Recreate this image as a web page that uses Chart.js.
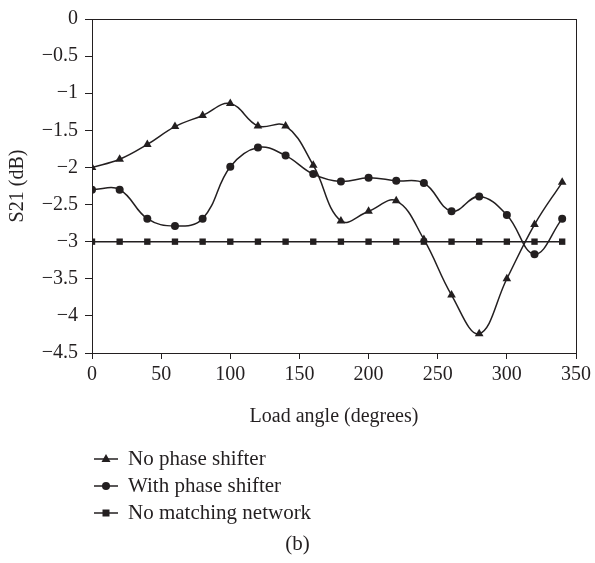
<!DOCTYPE html>
<html>
<head>
<meta charset="utf-8">
<title>S21 vs load angle</title>
<script src="https://cdn.jsdelivr.net/npm/chart.js@4/dist/chart.umd.min.js"></script>
<style>
  html, body { margin: 0; padding: 0; background: #fff; }
  #chart { display: block; }
</style>
</head>
<body>
<canvas id="chart" width="595" height="563"></canvas>
<script>
// Load angle (degrees)
const angles = [0, 20, 40, 60, 80, 100, 120, 140, 160, 180, 200, 220, 240, 260, 280, 300, 320, 340];

// S21 (dB) for each setup
const noShifter = [-2.0, -1.89, -1.69, -1.45, -1.30, -1.14, -1.44, -1.44, -1.97, -2.72, -2.59, -2.45, -2.97, -3.72, -4.24, -3.50, -2.77, -2.20];
const withShifter = [-2.30, -2.30, -2.69, -2.79, -2.69, -1.99, -1.73, -1.84, -2.09, -2.19, -2.14, -2.18, -2.21, -2.59, -2.39, -2.64, -3.17, -2.69];
const noMatching = [-3, -3, -3, -3, -3, -3, -3, -3, -3, -3, -3, -3, -3, -3, -3, -3, -3, -3];

const seriesNames = ['No phase shifter', 'With phase shifter', 'No matching network'];
const caption = '(b)';

const ink = '#231f20';
const serif = "'Liberation Serif', 'Times New Roman', serif";

function toPoints(values) {
   return values.map((v, i) => ({ x: angles[i], y: v }));
}

function marker(ctx, style, x, y) {
   ctx.beginPath();
   if (style === 'triangle') {
      ctx.moveTo(x, y - 5);
      ctx.lineTo(x + 4.5, y + 3);
      ctx.lineTo(x - 4.5, y + 3);
      ctx.closePath();
   } else if (style === 'circle') {
      ctx.arc(x, y, 4, 0, Math.PI * 2);
   } else {
      ctx.rect(x - 3.5, y - 3.5, 7, 7);
   }
   ctx.fill();
}

// Box round the plot, stacked legend and caption underneath
const frameAndLegend = {
   id: 'frameAndLegend',
   afterDraw(chart) {
      const { ctx, chartArea: a } = chart;
      ctx.save();
      ctx.strokeStyle = ink;
      ctx.lineWidth = 1;
      ctx.strokeRect(Math.round(a.left) + 0.5, Math.round(a.top) + 0.5,
         Math.round(a.right - a.left), Math.round(a.bottom - a.top));

      ctx.font = '21px ' + serif;
      ctx.fillStyle = ink;
      ctx.textBaseline = 'middle';
      ctx.textAlign = 'left';
      const rowY = [459, 486, 513];
      chart.data.datasets.forEach((ds, i) => {
         const y = rowY[i];
         ctx.beginPath();
         ctx.lineWidth = 1.5;
         ctx.moveTo(94, y);
         ctx.lineTo(118, y);
         ctx.stroke();
         marker(ctx, ds.pointStyle, 106, y);
         ctx.fillText(ds.label, 128, y);
      });

      ctx.textAlign = 'center';
      ctx.fillText(caption, chart.width / 2, 544);
      ctx.restore();
   }
};

const common = {
   borderColor: ink,
   backgroundColor: ink,
   borderWidth: 1.5,
   pointBorderWidth: 0,
   pointHoverRadius: 4,
   fill: false
};

new Chart(document.getElementById('chart'), {
   type: 'line',
   data: {
      datasets: [
         { ...common, label: seriesNames[0], data: toPoints(noShifter), pointStyle: 'triangle', pointRadius: 5, tension: 0.4 },
         { ...common, label: seriesNames[1], data: toPoints(withShifter), pointStyle: 'circle', pointRadius: 4, tension: 0.4 },
         { ...common, label: seriesNames[2], data: toPoints(noMatching), pointStyle: 'rect', pointRadius: 4.5, tension: 0 }
      ]
   },
   options: {
      responsive: false,
      animation: false,
      layout: { padding: { top: 12, right: 15, bottom: 133, left: 0 } },
      plugins: {
         legend: { display: false },
         tooltip: { enabled: false }
      },
      scales: {
         x: {
            type: 'linear',
            min: 0,
            max: 350,
            border: { display: true, color: ink, width: 1 },
            grid: { drawOnChartArea: false, drawTicks: true, tickLength: 6, color: ink },
            ticks: { stepSize: 50, color: ink, padding: 4, maxRotation: 0, font: { family: serif, size: 20 } },
            title: { display: true, text: 'Load angle (degrees)', color: ink, padding: { top: 0, bottom: 1 }, font: { family: serif, size: 20 } },
            afterFit(scale) { scale.height = 77; }
         },
         y: {
            min: -4.5,
            max: 0,
            border: { display: true, color: ink, width: 1 },
            grid: { drawOnChartArea: false, drawTicks: true, tickLength: 7, color: ink },
            ticks: {
               stepSize: 0.5,
               color: ink,
               padding: 7,
               font: { family: serif, size: 20 },
               callback: v => String(v).replace('-', '\u2212')
            },
            title: { display: true, text: 'S21 (dB)', color: ink, padding: { top: 6, bottom: 0 }, font: { family: serif, size: 20 } },
            afterFit(scale) { scale.width = 92; }
         }
      }
   },
   plugins: [frameAndLegend]
});
</script>
</body>
</html>
